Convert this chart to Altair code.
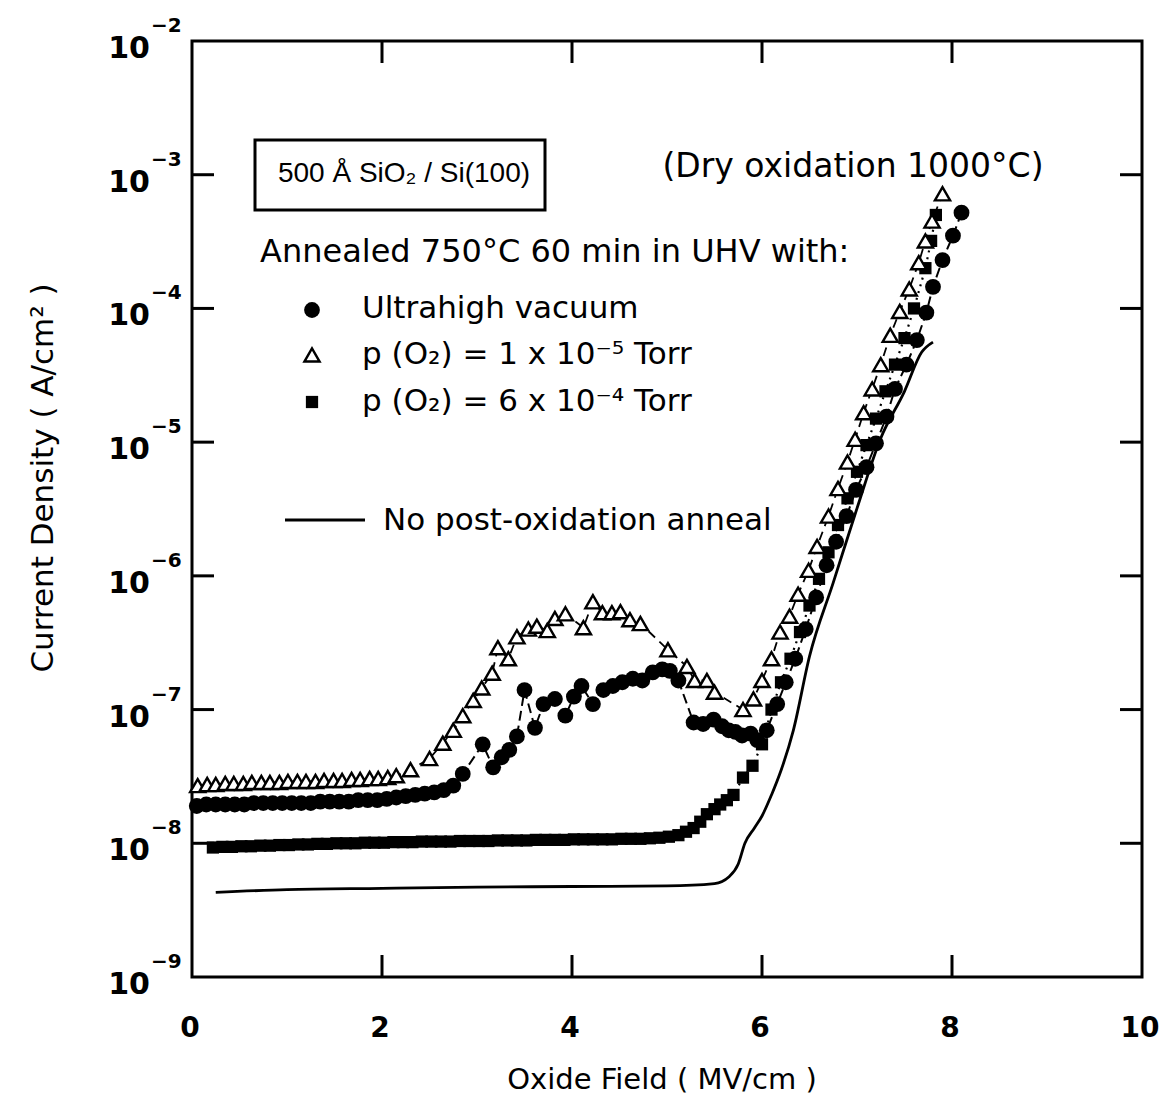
import altair as alt
import pandas as pd

# ---------------- data ----------------
# p(O2) = 1e-5 Torr  (open triangles)
tri_x = [0.06, 0.16, 0.25, 0.35, 0.44, 0.54, 0.63, 0.73, 0.82, 0.92, 1.01, 1.11, 1.20, 1.30,
         1.39, 1.49, 1.58, 1.68, 1.77, 1.87, 1.96, 2.06, 2.15, 2.30, 2.50, 2.64, 2.75, 2.85,
         2.96, 3.05, 3.16, 3.22, 3.33, 3.42, 3.54, 3.63, 3.74, 3.82, 3.93, 4.12, 4.22, 4.32,
         4.42, 4.51, 4.61, 4.72, 5.01, 5.21, 5.29, 5.42, 5.50, 5.80, 5.91, 6.00, 6.10, 6.19,
         6.29, 6.38, 6.49, 6.58, 6.70, 6.80, 6.90, 6.98, 7.07, 7.16, 7.25, 7.35, 7.45, 7.55,
         7.65, 7.72, 7.79, 7.90]
tri_y = [2.70e-8, 2.75e-8, 2.75e-8, 2.80e-8, 2.80e-8, 2.80e-8, 2.85e-8, 2.85e-8, 2.85e-8,
         2.85e-8, 2.90e-8, 2.90e-8, 2.90e-8, 2.90e-8, 2.95e-8, 2.95e-8, 2.95e-8, 3.00e-8,
         3.00e-8, 3.05e-8, 3.05e-8, 3.10e-8, 3.20e-8, 3.55e-8, 4.30e-8, 5.60e-8, 7.00e-8,
         9.00e-8, 1.17e-7, 1.45e-7, 1.87e-7, 2.90e-7, 2.40e-7, 3.50e-7, 4.00e-7, 4.20e-7,
         3.90e-7, 4.80e-7, 5.20e-7, 4.10e-7, 6.40e-7, 5.30e-7, 5.30e-7, 5.40e-7, 4.70e-7,
         4.40e-7, 2.80e-7, 2.10e-7, 1.65e-7, 1.65e-7, 1.35e-7, 1.00e-7, 1.20e-7, 1.65e-7,
         2.40e-7, 3.80e-7, 5.00e-7, 7.30e-7, 1.10e-6, 1.66e-6, 2.80e-6, 4.50e-6, 7.10e-6,
         1.05e-5, 1.66e-5, 2.50e-5, 3.80e-5, 6.30e-5, 9.50e-5, 1.40e-4, 2.20e-4, 3.20e-4,
         4.50e-4, 7.20e-4]

# Ultrahigh vacuum (filled circles)
uhv_x = [0.05, 0.15, 0.25, 0.35, 0.45, 0.55, 0.65, 0.75, 0.85, 0.95, 1.05, 1.15, 1.25, 1.35,
         1.45, 1.55, 1.65, 1.75, 1.85, 1.95, 2.05, 2.15, 2.25, 2.35, 2.45, 2.55, 2.65, 2.75,
         2.85, 3.06, 3.17, 3.26, 3.34, 3.42, 3.50, 3.61, 3.70, 3.82, 3.93, 4.02, 4.10, 4.22,
         4.33, 4.43, 4.53, 4.64, 4.74, 4.85, 4.95, 5.03, 5.12, 5.28, 5.38, 5.49, 5.58, 5.65,
         5.72, 5.79, 5.88, 5.95, 6.05, 6.16, 6.25, 6.35, 6.46, 6.57, 6.68, 6.78, 6.89, 6.99,
         7.10, 7.20, 7.31, 7.40, 7.52, 7.63, 7.73, 7.80, 7.90, 8.01, 8.10]
uhv_y = [1.90e-8, 1.95e-8, 1.95e-8, 1.95e-8, 1.95e-8, 1.95e-8, 2.00e-8, 2.00e-8, 2.00e-8,
         2.00e-8, 2.00e-8, 2.00e-8, 2.00e-8, 2.05e-8, 2.05e-8, 2.05e-8, 2.05e-8, 2.10e-8,
         2.10e-8, 2.10e-8, 2.15e-8, 2.20e-8, 2.25e-8, 2.30e-8, 2.35e-8, 2.40e-8, 2.50e-8,
         2.70e-8, 3.30e-8, 5.50e-8, 3.70e-8, 4.40e-8, 5.00e-8, 6.30e-8, 1.40e-7, 7.30e-8,
         1.10e-7, 1.20e-7, 9.00e-8, 1.25e-7, 1.50e-7, 1.10e-7, 1.40e-7, 1.50e-7, 1.60e-7,
         1.70e-7, 1.65e-7, 1.90e-7, 2.00e-7, 1.95e-7, 1.65e-7, 8.00e-8, 7.80e-8, 8.40e-8,
         7.50e-8, 7.00e-8, 6.80e-8, 6.40e-8, 6.60e-8, 5.90e-8, 7.00e-8, 1.10e-7, 1.60e-7,
         2.40e-7, 4.00e-7, 6.90e-7, 1.20e-6, 1.80e-6, 2.80e-6, 4.40e-6, 6.50e-6, 9.80e-6,
         1.55e-5, 2.50e-5, 3.80e-5, 5.80e-5, 9.30e-5, 1.45e-4, 2.30e-4, 3.50e-4, 5.20e-4]

# p(O2) = 6e-4 Torr (filled squares)
sq_x = [0.22, 0.32, 0.42, 0.52, 0.62, 0.72, 0.82, 0.92, 1.02, 1.12, 1.22, 1.32, 1.42, 1.52,
        1.62, 1.72, 1.82, 1.92, 2.02, 2.12, 2.22, 2.32, 2.42, 2.52, 2.62, 2.72, 2.82, 2.92,
        3.02, 3.12, 3.22, 3.32, 3.42, 3.52, 3.62, 3.72, 3.82, 3.92, 4.02, 4.12, 4.22, 4.32,
        4.42, 4.52, 4.62, 4.72, 4.82, 4.92, 5.02, 5.12, 5.20, 5.28, 5.35, 5.42, 5.50, 5.56,
        5.63, 5.70, 5.80, 5.90, 6.00, 6.10, 6.20, 6.30, 6.40, 6.50, 6.60, 6.70, 6.80, 6.90,
        7.00, 7.10, 7.20, 7.30, 7.40, 7.50, 7.60, 7.72, 7.78, 7.83]
sq_y = [9.3e-9, 9.4e-9, 9.4e-9, 9.5e-9, 9.5e-9, 9.6e-9, 9.6e-9, 9.7e-9, 9.7e-9, 9.8e-9,
        9.8e-9, 9.9e-9, 9.9e-9, 1.00e-8, 1.00e-8, 1.00e-8, 1.01e-8, 1.01e-8, 1.01e-8,
        1.02e-8, 1.02e-8, 1.02e-8, 1.03e-8, 1.03e-8, 1.03e-8, 1.03e-8, 1.04e-8, 1.04e-8,
        1.04e-8, 1.04e-8, 1.05e-8, 1.05e-8, 1.05e-8, 1.05e-8, 1.06e-8, 1.06e-8, 1.06e-8,
        1.06e-8, 1.07e-8, 1.07e-8, 1.07e-8, 1.07e-8, 1.07e-8, 1.08e-8, 1.08e-8, 1.08e-8,
        1.09e-8, 1.10e-8, 1.12e-8, 1.15e-8, 1.22e-8, 1.30e-8, 1.45e-8, 1.65e-8, 1.80e-8,
        1.95e-8, 2.10e-8, 2.30e-8, 3.10e-8, 3.80e-8, 5.50e-8, 1.00e-7, 1.60e-7, 2.40e-7,
        3.80e-7, 6.00e-7, 9.50e-7, 1.50e-6, 2.40e-6, 3.80e-6, 6.00e-6, 9.50e-6, 1.50e-5,
        2.40e-5, 3.80e-5, 6.00e-5, 1.00e-4, 2.00e-4, 3.20e-4, 5.00e-4]

# No post-oxidation anneal (solid line)
na_x = [0.25, 1.00, 2.00, 3.00, 4.00, 5.00, 5.50, 5.65, 5.75, 5.82, 5.92, 6.00, 6.10, 6.20,
        6.33, 6.50, 6.75, 7.00, 7.25, 7.50, 7.68, 7.80]
na_y = [4.3e-9, 4.5e-9, 4.6e-9, 4.7e-9, 4.75e-9, 4.8e-9, 5.0e-9, 5.6e-9, 7.0e-9, 1.0e-8,
        1.3e-8, 1.6e-8, 2.3e-8, 3.5e-8, 7.0e-8, 2.5e-7, 8.9e-7, 3.2e-6, 1.07e-5, 2.4e-5,
        4.7e-5, 5.6e-5]

x_ticks = [2, 4, 6, 8]
x_labels = [0, 2, 4, 6, 8, 10]
y_exponents = [-9, -8, -7, -6, -5, -4, -3, -2]

# ---------------- chart ----------------
FONT = "DejaVu Sans, Verdana, sans-serif"
NARROW = "Liberation Sans, Arial, Helvetica, sans-serif"
W, H = 950, 936

xs = alt.Scale(domain=[0, 10], nice=False, zero=False)
ys = alt.Scale(type="log", domain=[1e-9, 1e-2], nice=False)

C_SIZE, T_SIZE, S_SIZE = 250, 230, 150


def XE(f="x"):
    return alt.X(f"{f}:Q", scale=xs, axis=None)


def YE(f="y"):
    return alt.Y(f"{f}:Q", scale=ys, axis=None)


tri = pd.DataFrame({"x": tri_x, "y": tri_y})
uhv = pd.DataFrame({"x": uhv_x, "y": uhv_y})
sq = pd.DataFrame({"x": sq_x, "y": sq_y})
na = pd.DataFrame({"x": na_x, "y": na_y})

line_na = alt.Chart(na).mark_line(color="black", strokeWidth=2.8, interpolate="monotone").encode(XE(), YE())

conn_tri = alt.Chart(tri).mark_line(color="black", strokeWidth=1.8, strokeDash=[9, 6]).encode(XE(), YE())
conn_uhv = alt.Chart(uhv).mark_line(color="black", strokeWidth=2, strokeDash=[10, 5]).encode(XE(), YE())
conn_sq = alt.Chart(sq).mark_line(color="black", strokeWidth=2.2, strokeDash=[2, 5]).encode(XE(), YE())

pts_sq = alt.Chart(sq).mark_point(shape="square", filled=True, color="black", size=S_SIZE, opacity=1).encode(XE(), YE())
pts_tri = alt.Chart(tri).mark_point(shape="triangle-up", filled=True, fill="white", stroke="black",
                                    strokeWidth=2.4, size=T_SIZE, opacity=1).encode(XE(), YE())
pts_uhv = alt.Chart(uhv).mark_point(shape="circle", filled=True, color="black", size=C_SIZE, opacity=1).encode(XE(), YE())

# inward ticks
xt = pd.DataFrame({"x": x_ticks})
ticks_bottom = alt.Chart(xt).mark_rule(color="black", strokeWidth=3).encode(
    x=alt.X("x:Q", scale=xs, axis=None), y=alt.value(H), y2=alt.value(H - 22))
ticks_top = alt.Chart(xt).mark_rule(color="black", strokeWidth=3).encode(
    x=alt.X("x:Q", scale=xs, axis=None), y=alt.value(0), y2=alt.value(22))
yt = pd.DataFrame({"y": [10.0 ** e for e in y_exponents[1:-1]]})
ticks_left = alt.Chart(yt).mark_rule(color="black", strokeWidth=3).encode(
    y=alt.Y("y:Q", scale=ys, axis=None), x=alt.value(0), x2=alt.value(22))
ticks_right = alt.Chart(yt).mark_rule(color="black", strokeWidth=3).encode(
    y=alt.Y("y:Q", scale=ys, axis=None), x=alt.value(W), x2=alt.value(W - 22))

# axis labels
xl = pd.DataFrame({"x": x_labels, "t": [str(v) for v in x_labels]})
x_lab = alt.Chart(xl).mark_text(font=FONT, fontSize=28, fontWeight="bold", color="black",
                                align="center", baseline="middle", dx=-2).encode(
    x=alt.X("x:Q", scale=xs, axis=None), y=alt.value(H + 52), text="t:N")
yl = pd.DataFrame({"y": [10.0 ** e for e in y_exponents],
                   "b": ["10"] * len(y_exponents),
                   "e": ["\u2212" + str(-e) for e in y_exponents]})
y_lab = alt.Chart(yl).mark_text(font=FONT, fontSize=30, fontWeight="bold", color="black",
                                align="right", baseline="middle", dy=8).encode(
    y=alt.Y("y:Q", scale=ys, axis=None), x=alt.value(-42), text="b:N")
y_exp = alt.Chart(yl).mark_text(font=FONT, fontSize=20, fontWeight="bold", color="black",
                                align="left", baseline="middle", dy=-15).encode(
    y=alt.Y("y:Q", scale=ys, axis=None), x=alt.value(-41), text="e:N")


def label(text, px, py, size=31, align="left", weight="normal", angle=0, font=FONT):
    kw = dict(font=font, fontSize=size, color="black", align=align, baseline="middle",
              fontWeight=weight, text=text)
    if angle:
        kw["angle"] = angle
    return alt.Chart(pd.DataFrame({"a": [0]})).mark_text(**kw).encode(
        x=alt.value(px - 192), y=alt.value(py - 41))


x_title = label("Oxide Field  ( MV/cm )", 662, 1080, size=29, align="center")
y_title = label("Current Density  ( A/cm\u00b2 )", 44, 478, size=31, align="center", angle=270)

box = alt.Chart(pd.DataFrame({"a": [0]})).mark_rect(fill="white", stroke="black", strokeWidth=3).encode(
    x=alt.value(255 - 192), x2=alt.value(545 - 192), y=alt.value(140 - 41), y2=alt.value(210 - 41))

t_box = label("500 \u00c5 SiO\u2082 / Si(100)", 404, 174, size=28, align="center", font=NARROW)
t_dry = label("(Dry oxidation 1000\u00b0C)", 853, 167, size=33, align="center")
t_ann = label("Annealed 750\u00b0C 60 min in UHV with:", 260, 252, size=32)
t_uhv = label("Ultrahigh vacuum", 362, 309, size=31)
t_o1 = label("p (O\u2082) = 1 x 10\u207b\u2075 Torr", 362, 355, size=31)
t_o2 = label("p (O\u2082) = 6 x 10\u207b\u2074 Torr", 362, 402, size=31)
t_na = label("No post-oxidation anneal", 383, 521, size=31)

leg_c = alt.Chart(pd.DataFrame({"a": [0]})).mark_point(shape="circle", filled=True, color="black",
                                                       size=C_SIZE, opacity=1).encode(
    x=alt.value(312 - 192), y=alt.value(310 - 41))
leg_t = alt.Chart(pd.DataFrame({"a": [0]})).mark_point(shape="triangle-up", filled=True, fill="white",
                                                       stroke="black", strokeWidth=2.4, size=T_SIZE,
                                                       opacity=1).encode(
    x=alt.value(312 - 192), y=alt.value(355 - 41))
leg_s = alt.Chart(pd.DataFrame({"a": [0]})).mark_point(shape="square", filled=True, color="black",
                                                       size=S_SIZE, opacity=1).encode(
    x=alt.value(312 - 192), y=alt.value(402 - 41))
leg_l = alt.Chart(pd.DataFrame({"a": [0]})).mark_rule(color="black", strokeWidth=3).encode(
    x=alt.value(285 - 192), x2=alt.value(365 - 192), y=alt.value(520 - 41))

chart = alt.layer(
    ticks_bottom, ticks_top, ticks_left, ticks_right,
    line_na, conn_sq, conn_tri, conn_uhv,
    pts_sq, pts_tri, pts_uhv,
    x_lab, y_lab, y_exp, x_title, y_title,
    box, t_box, t_dry, t_ann, t_uhv, t_o1, t_o2, t_na,
    leg_c, leg_t, leg_s, leg_l,
).properties(
    width=W, height=H,
    padding={"left": 184, "top": 33, "right": 18, "bottom": 122},
    autosize=alt.AutoSizeParams(type="none"),
    background="white",
).configure_view(stroke="black", strokeWidth=3)

chart.save("out.html", embed_options={"renderer": "svg", "actions": False})
